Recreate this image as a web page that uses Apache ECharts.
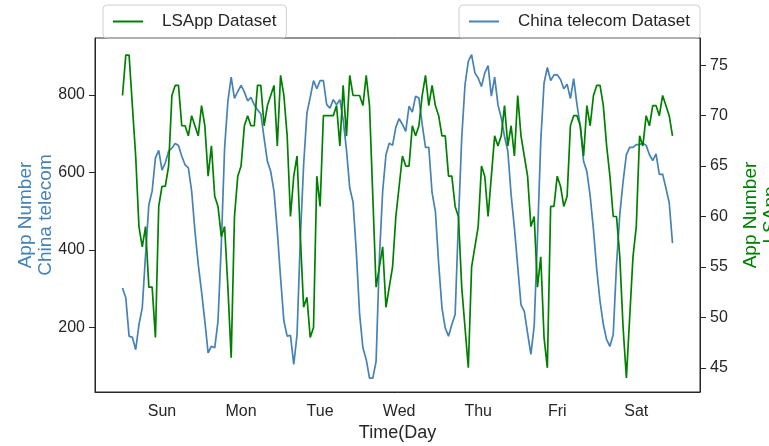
<!DOCTYPE html>
<html>
<head>
<meta charset="utf-8">
<script src="https://cdn.jsdelivr.net/npm/echarts@6/dist/echarts.min.js"></script>
<style>
  html, body { margin: 0; padding: 0; background: #fff; }
  #chart { width: 769px; height: 446px; }
</style>
</head>
<body>
<div id="chart"></div>
<script>
// hourly samples over one week, day labels at noon of each day
const days = ['Sun', 'Mon', 'Tue', 'Wed', 'Thu', 'Fri', 'Sat'];
const dayTicks = [12, 36, 60, 84, 108, 132, 156];
const leftTicks = [200, 400, 600, 800];
const rightTicks = [45, 50, 55, 60, 65, 70, 75];

// China telecom (left axis)
const telecom = [
  302, 277, 178, 175, 143, 208, 251, 388, 517, 552, 638, 657, 606, 625, 655, 663, 675, 670, 642, 620, 612, 552, 449, 363,
  293, 217, 135, 152, 148, 217, 414, 663, 784, 846, 791, 809, 825, 808, 785, 794, 775, 762, 751, 689, 629, 603, 552, 449,
  328, 217, 178, 180, 105, 182, 431, 620, 754, 794, 837, 816, 837, 837, 775, 766, 788, 775, 788, 736, 659, 560, 524, 395,
  234, 148, 118, 70, 70, 113, 380, 552, 646, 676, 670, 717, 739, 724, 706, 771, 756, 797, 792, 724, 665, 665, 548, 500,
  365, 251, 199, 178, 208, 234, 474, 689, 827, 887, 904, 857, 844, 822, 857, 876, 797, 846, 775, 741, 693, 655, 543, 457,
  358, 259, 242, 186, 131, 204, 431, 681, 831, 871, 837, 852, 852, 840, 816, 828, 791, 842, 775, 719, 629, 603, 540, 453,
  350, 268, 208, 169, 152, 182, 363, 492, 577, 646, 665, 665, 672, 672, 676, 670, 646, 631, 648, 595, 596, 560, 522, 418
];

// LSApp (right axis)
const lsapp = [
  72, 76, 76, 71, 66, 59, 57, 59, 53, 53, 48, 61, 63, 63, 65, 72, 73, 73, 69, 69, 68, 70, 69, 68,
  71, 69, 64, 67, 62, 61, 58, 59, 53, 46, 60, 64, 65, 69, 70, 69, 69, 73, 73, 69, 71, 72, 73, 67,
  74, 72, 68, 60, 64, 66, 58, 51, 52, 48, 49, 64, 61, 70, 70, 70, 70, 71, 67, 73, 68, 74, 72, 72,
  72, 71, 74, 71, 62, 53, 55, 57, 51, 53, 55, 60, 63, 66, 65, 65, 69, 68, 69, 72, 74, 71, 73, 71,
  70, 68, 68, 64, 64, 61, 60, 53, 49, 45, 55, 57, 59, 65, 64, 60, 64, 68, 67, 68, 71, 67, 69, 66,
  72, 68, 66, 64, 59, 60, 53, 56, 48, 45, 61, 61, 64, 63, 61, 62, 69, 70, 70, 69, 66, 71, 69, 72,
  73, 73, 71, 67, 64, 60, 60, 56, 49, 44, 50, 56, 59, 68, 67, 70, 69, 71, 71, 70, 72, 71, 70, 68
];

const blue = '#4682B4';
const green = '#008000';
const ink = '#262626';
const font = '"Liberation Sans", Arial, sans-serif';

const chart = echarts.init(document.getElementById('chart'));

const legendBox = {
  padding: [8, 10, 8, 10],
  icon: 'rect',
  itemWidth: 30, itemHeight: 2,
  borderColor: '#d0d0d0', borderWidth: 1, borderRadius: 4,
  textStyle: { fontSize: 17, color: ink, padding: [0, 0, 0, 14], fontFamily: font }
};

const option = {
  animation: false,
  textStyle: { fontFamily: font },
  grid: {
    left: 95, right: 69, top: 38, bottom: 54,
    show: true, borderColor: ink, borderWidth: 1,
    outerBoundsMode: 'none'
  },
  legend: [
    Object.assign({ data: ['LSApp Dataset'], left: 103, top: 5 }, legendBox),
    Object.assign({ data: ['China telecom Dataset'], right: 69, top: 5 }, legendBox)
  ],
  xAxis: {
    type: 'value',
    min: -8.35,
    max: 175.35,
    name: 'Time(Day',
    nameLocation: 'middle',
    nameGap: 32,
    nameMoveOverlap: false,
    nameTextStyle: { fontSize: 18, color: ink, fontFamily: font },
    axisLine: { show: true, onZero: false, lineStyle: { color: ink, width: 1 } },
    axisTick: { show: false },
    splitLine: { show: false },
    axisLabel: {
      customValues: dayTicks,
      formatter: v => days[Math.round((v - 12) / 24)],
      fontSize: 16, color: ink, margin: 12
    }
  },
  yAxis: [
    {
      type: 'value',
      min: 34, max: 947,
      position: 'left',
      name: 'App Number\nChina telecom',
      nameLocation: 'middle',
      nameRotate: 90,
      nameGap: 39,
      nameMoveOverlap: false,
      nameTextStyle: { fontSize: 19, color: blue, lineHeight: 20, fontFamily: font },
      axisLine: { show: true, onZero: false, lineStyle: { color: ink, width: 1 } },
      axisTick: { show: true, customValues: leftTicks, length: 6, lineStyle: { color: ink } },
      axisLabel: { customValues: leftTicks, fontSize: 16, color: ink, margin: 10 },
      splitLine: { show: false }
    },
    {
      type: 'value',
      min: 42.6, max: 77.7,
      position: 'right',
      name: 'App Number\nLSApp',
      nameLocation: 'middle',
      nameRotate: 90,
      nameGap: 41,
      nameMoveOverlap: false,
      nameTextStyle: { fontSize: 19, color: green, lineHeight: 20, fontFamily: font },
      axisLine: { show: true, onZero: false, lineStyle: { color: ink, width: 1 } },
      axisTick: { show: true, customValues: rightTicks, length: 6, lineStyle: { color: ink } },
      axisLabel: { customValues: rightTicks, fontSize: 16, color: ink, margin: 10 },
      splitLine: { show: false }
    }
  ],
  series: [
    {
      name: 'China telecom Dataset',
      type: 'line',
      yAxisIndex: 0,
      symbol: 'none',
      lineStyle: { color: blue, width: 1.7 },
      itemStyle: { color: blue },
      data: telecom.map((v, i) => [i, v])
    },
    {
      name: 'LSApp Dataset',
      type: 'line',
      yAxisIndex: 1,
      symbol: 'none',
      lineStyle: { color: green, width: 1.7 },
      itemStyle: { color: green },
      data: lsapp.map((v, i) => [i, v])
    }
  ]
};

chart.setOption(option);
</script>
</body>
</html>
